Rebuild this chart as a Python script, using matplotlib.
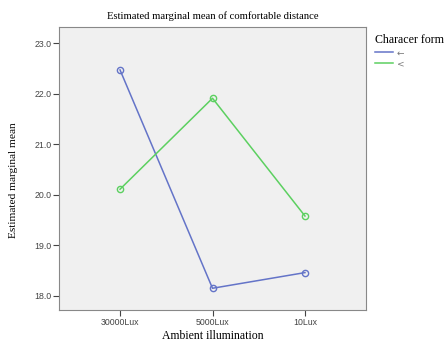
import matplotlib
matplotlib.use("Agg")
import matplotlib.pyplot as plt
from matplotlib.lines import Line2D

categories = ["30000Lux", "5000Lux", "10Lux"]
series_names = ["←", "<"]
blue_values = [22.47, 18.15, 18.46]
green_values = [20.11, 21.91, 19.58]
yticks = [18.0, 19.0, 20.0, 21.0, 22.0, 23.0]

blue = "#6474c8"
green = "#5cd060"

fig = plt.figure(figsize=(4.45, 3.42), dpi=100)
fig.patch.set_facecolor("white")
ax = fig.add_axes([59/445, 32/342, (366-59)/445, (310-27)/342])
ax.set_facecolor("#f0f0f0")

x = list(range(len(categories)))
ax.plot(x, blue_values, color=blue, lw=1.1, marker="o", ms=4.5, mfc="none", mec=blue, mew=1.0)
ax.plot(x, green_values, color=green, lw=1.1, marker="o", ms=4.5, mfc="none", mec=green, mew=1.0)

ax.set_xlim(-0.66, 2.66)
ax.set_ylim(17.72, 23.32)
ax.set_xticks(x)
ax.set_xticklabels(categories, fontsize=6.3, family="Liberation Sans", color="#444444")
ax.set_yticks(yticks)
ax.set_yticklabels([f"{v:.1f}" for v in yticks], fontsize=6.3, family="Liberation Sans", color="#444444")
ax.tick_params(axis="both", length=4, width=0.8, color="#444444", pad=1.5)
for s in ax.spines.values():
    s.set_color("#888888")
    s.set_linewidth(0.8)

ax.set_title("Estimated marginal mean of comfortable distance", family="Liberation Serif",
             fontsize=7.7, pad=6)
ax.set_xlabel("Ambient illumination", family="Liberation Serif", fontsize=8.5)
ax.xaxis.set_label_coords(0.5, -0.092)
ax.xaxis.label.set_va("center")
ax.set_ylabel("Estimated marginal mean", family="Liberation Serif", fontsize=8.2)
ax.yaxis.set_label_coords(-0.148, 0.46)
ax.yaxis.label.set_va("center")

handles = [Line2D([0], [0], color=blue, lw=1.1), Line2D([0], [0], color=green, lw=1.1)]
leg = fig.legend(handles, series_names, loc="upper left", bbox_to_anchor=(375/445, 1 - 34/342),
                 frameon=False, title="Characer form", fontsize=6.5, handlelength=2.0,
                 handletextpad=0.4, labelspacing=0.25, borderaxespad=0, borderpad=0)
leg.get_title().set_family("Liberation Serif")
leg.get_title().set_fontsize(8.6)
leg._legend_box.align = "left"
for t in leg.get_texts():
    t.set_color("#777777")

fig.savefig("out.png", dpi=100)
